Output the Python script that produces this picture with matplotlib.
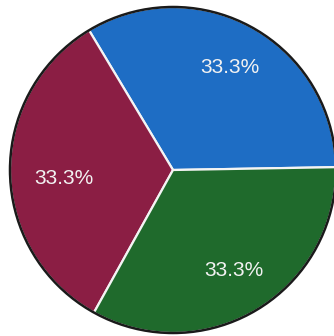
import matplotlib
matplotlib.use("Agg")
import matplotlib.pyplot as plt
from matplotlib.patches import Circle

# slice values (equal thirds), counter-clockwise from 0 deg
labels = ["Blue", "Maroon", "Green"]
values = [1, 1, 1]
colors = ["#1e6dc4", "#8b1e44", "#1f6a2c"]

fig = plt.figure(figsize=(3.34, 3.36), dpi=100)
ax = fig.add_axes([0, 0, 1, 1])

wedges, texts, autotexts = ax.pie(
    values,
    colors=colors,
    startangle=1,
    counterclock=True,
    autopct="%1.1f%%",
    pctdistance=0.72,
    wedgeprops=dict(edgecolor="#f4f4f4", linewidth=1.6),
    textprops=dict(color="#f2f2f2", fontsize=15, family="Liberation Sans"),
)

# left label sits a little closer to the centre and lower in the reference
x, y = autotexts[1].get_position()
autotexts[1].set_position((x * 0.93, y - 0.04))

# dark outer rim
ax.add_patch(Circle((0, 0), 1.0, fill=False, edgecolor="#1a1a1a", linewidth=1.8))

# place the pie: centre at ~(173,170) px, radius ~163 px
r = 163.0
ax.set_aspect("auto")
ax.set_xlim(-173 / r, (334 - 173) / r)
ax.set_ylim(-(336 - 170) / r, 170 / r)
ax.axis("off")

fig.savefig("out.png", dpi=100)
